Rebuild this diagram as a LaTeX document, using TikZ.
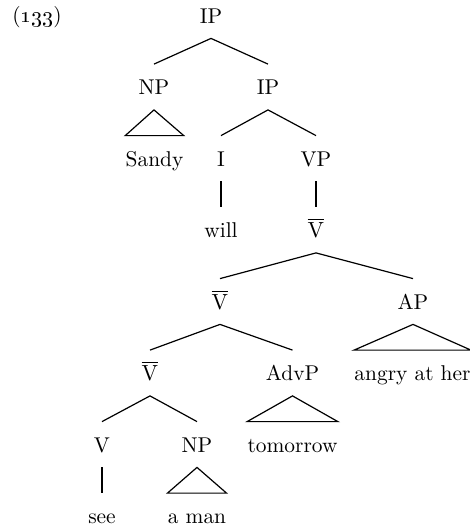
\documentclass[tikz,border=0pt]{standalone}
\usepackage{amsmath}
\tikzset{cat/.style={anchor=base, inner xsep=0pt, inner ysep=5pt, text height=10pt, text depth=2.5pt,
    font=\fontsize{10.7}{12}\selectfont},
%branches of the tree
branch/.style={line width=0.6pt}}

\begin{document}
\begin{tikzpicture}[x=0.5pt, y=-0.5pt]

    \useasboundingbox (0,0) rectangle (470,531);

    \node[anchor=base west, font=\fontsize{10.7}{12}\selectfont, inner sep=0pt] (ex) at (12,22) {(\oldstylenums{133})};

    \node[cat] (ip)       at (211,23)      {IP};
    \node[cat] (np)       at (154,94.5)    {NP};
    \node[cat] (ip2)      at (268,94.5)    {IP};
    \node[cat] (sandy)    at (154.5,166)   {Sandy};
    \node[cat] (i)        at (221,166)     {I};
    \node[cat] (vp)       at (316,166)     {VP};
    \node[cat] (will)     at (221,237.5)   {will};
    \node[cat] (vbar1)    at (316,237.5)   {$\overline{\mathrm{V}}$};
    \node[cat] (vbar2)    at (220,309)     {$\overline{\mathrm{V}}$};
    \node[cat] (ap)       at (413,309)     {AP};
    \node[cat] (vbar3)    at (150,380.5)   {$\overline{\mathrm{V}}$};
    \node[cat] (advp)     at (292.5,380.5) {AdvP};
    \node[cat] (angry)    at (412.5,380.5) {angry at her};
    \node[cat] (v)        at (102,452)     {V};
    \node[cat] (np2)      at (197,452)     {NP};
    \node[cat] (tomorrow) at (292.5,452)   {tomorrow};
    \node[cat] (see)      at (102,523.5)   {see};
    \node[cat] (aman)     at (197,523.5)   {a man};

    \foreach \a/\b in {ip/np, ip/ip2, ip2/i, ip2/vp, i/will, vp/vbar1, vbar1/vbar2, vbar1/ap,
                       vbar2/vbar3, vbar2/advp, vbar3/v, vbar3/np2, v/see}
    \draw[branch] (\a.south) -- (\b.north);

    %\foreach \a/\b in {np/sandy}
    %    \draw (\a.south) -- (\b.north);

    \foreach \a/\b in {np/sandy, ap/angry, advp/tomorrow, np2/aman}
    \draw[branch] (\a.south) -- (\b.north west) -- (\b.north east) -- cycle;

  \end{tikzpicture}
\end{document}
